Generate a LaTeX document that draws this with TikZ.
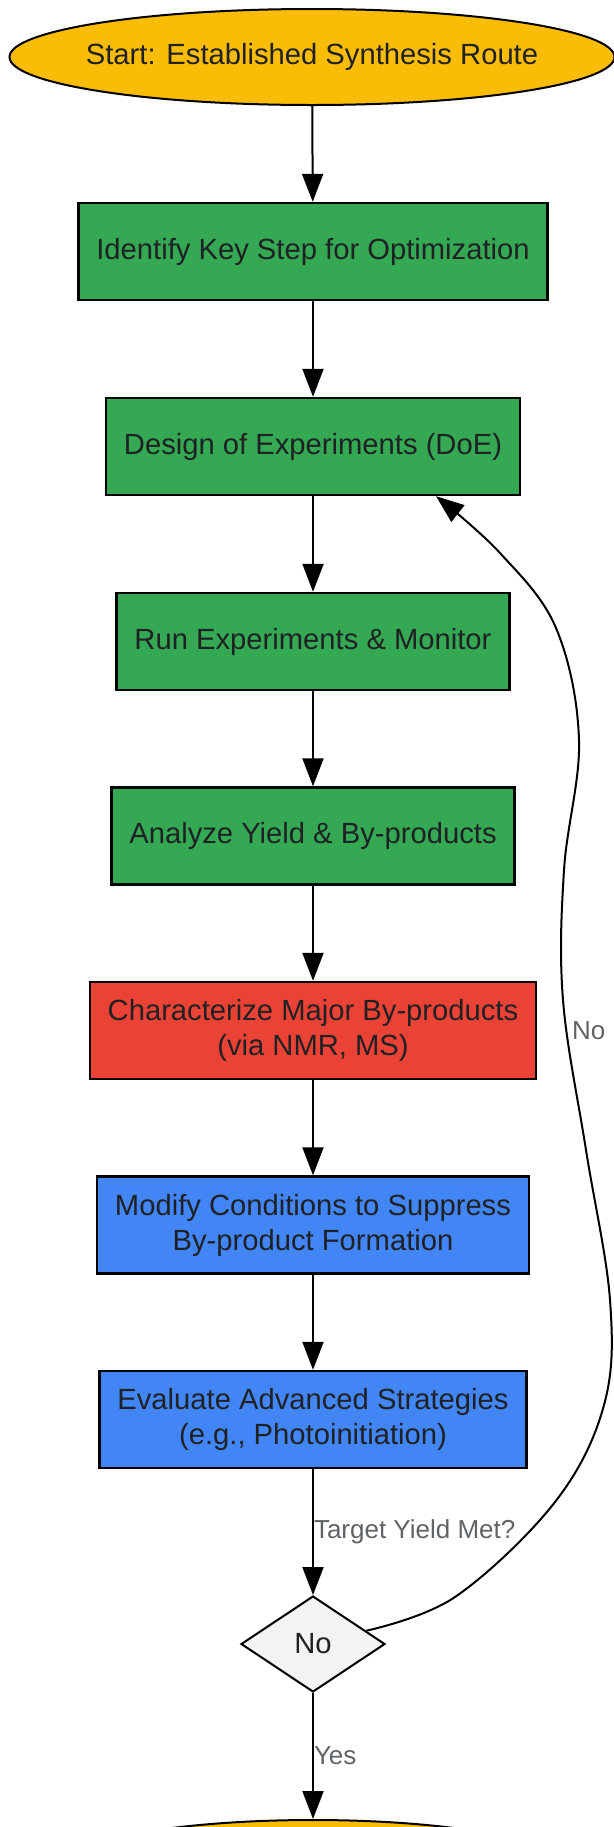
\documentclass[tikz,border=0pt]{standalone}
\usepackage{fontspec}
\setmainfont{Liberation Sans}
\usepackage{tikz}
\usetikzlibrary{shapes.geometric,arrows.meta}

\definecolor{startyellow}{HTML}{FBBC05}
\definecolor{stepgreen}{HTML}{34A853}
\definecolor{stepred}{HTML}{EA4335}
\definecolor{stepblue}{HTML}{4285F4}
\definecolor{decgray}{HTML}{F1F3F4}
\definecolor{textdark}{HTML}{202124}
\definecolor{labelgray}{HTML}{5F6368}

\tikzset{
	box/.style={draw=black, line width=1.2pt, rectangle, minimum height=48.5pt,
		inner xsep=9pt, align=center, text=textdark,
		font=\fontsize{14.6}{17.5}\selectfont},
	term/.style={draw=black, line width=1pt, ellipse, fill=startyellow,
		inner sep=0pt, minimum height=48pt},
	termtext/.style={text=textdark, inner sep=0pt,
		font=\fontsize{14.6}{17.5}\selectfont},
	check/.style={draw=black, line width=1pt, diamond, fill=decgray,
		minimum width=72pt, minimum height=48pt, inner sep=0pt,
		text=textdark, font=\fontsize{14.6}{17.5}\selectfont},
	edgelabel/.style={text=labelgray, inner sep=0pt,
		font=\fontsize{13}{15.6}\selectfont},
	>={Triangle[length=14pt,width=10.5pt]}
}

\begin{document}
\begin{tikzpicture}[x=0.5pt, y=-0.5pt, line width=1pt]
	\useasboundingbox (0,0) rectangle (614,1827);
	\node[term, minimum width=302.5pt,
		label={[termtext]center:{Start: Established Synthesis Route}}] (1) at (312,57) {};
	\node[box, fill=stepgreen] (2) at (313,251.5)
		{Identify Key Step for Optimization};
	\node[box, fill=stepgreen] (3) at (313,446.5)
		{Design of Experiments (DoE)};
	\node[box, fill=stepgreen] (4) at (313,641.5)
		{Run Experiments \& Monitor};
	\node[box, fill=stepgreen] (5) at (313,836)
		{Analyze Yield \& By-products};
	\node[box, fill=stepred] (6) at (313,1030.5)
		{Characterize Major By-products\\(via NMR, MS)};
	\node[box, fill=stepblue] (7) at (313,1225)
		{Modify Conditions to Suppress\\By-product Formation};
	\node[box, fill=stepblue] (8) at (313,1419.5)
		{Evaluate Advanced Strategies\\(e.g., Photoinitiation)};
	\node[check] (9) at (313,1644) {No};
	\node[term, minimum width=255pt] (10) at (313,1868) {};

	\draw [ -> ] (1) to (2);
	\draw [ -> ] (2) to (3);
	\draw [ -> ] (3) to (4);
	\draw [ -> ] (4) to (5);
	\draw [ -> ] (5) to (6);
	\draw [ -> ] (6) to (7);
	\draw [ -> ] (7) to (8);
	\draw [ -> ] (8) to node[edgelabel, right] {Target Yield Met?} (9);
	\draw [ -> ] (9) to node[edgelabel, right] {Yes} (10);
	% back to the design step
	\draw [ -> ] plot[smooth, tension=0.6] coordinates {(9.14) (455,1597)
		(555,1502) (604,1405) (610,1300) (586,1150) (563,1000) (564,870)
		(579,740) (556,628) (500,553) (3.-22.5)};
	\node[edgelabel, anchor=west] (no) at (571,1031) {No};
\end{tikzpicture}
\end{document}
